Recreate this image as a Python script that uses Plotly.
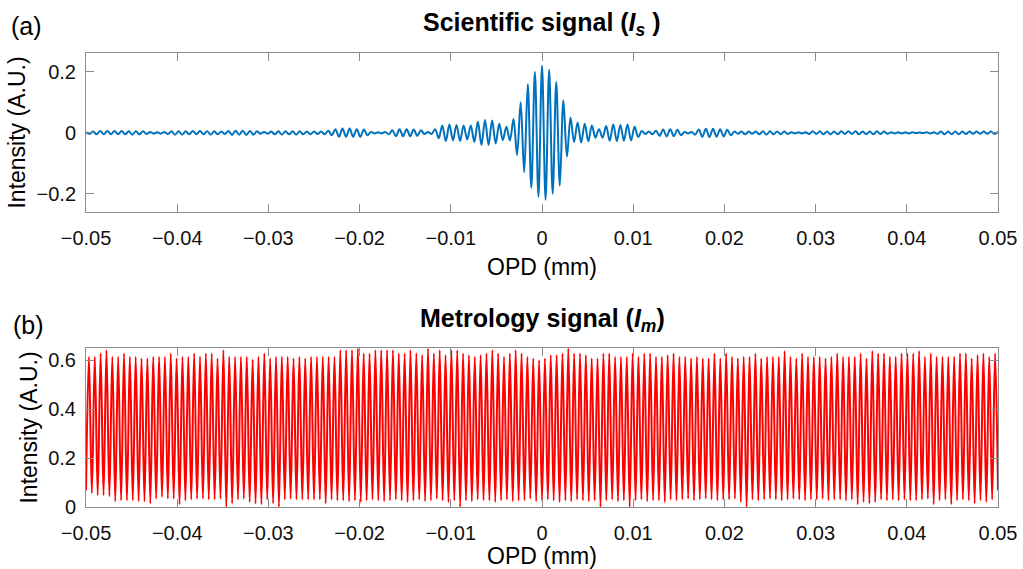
import numpy as np
import plotly.graph_objects as go

# ---------------- data ----------------
# Scientific signal: successive extrema (max/min) of the interferogram,
# evenly spaced over OPD -0.05 .. 0.05 mm
sci_extrema = [
    0.002, -0.003, 0.004,
    -0.005, 0.006, -0.005, 0.006, -0.005, 0.006, -0.005, 0.006, -0.005, 0.005, -0.006, 0.005, -0.005, 0.005, -0.004,
    0.003, -0.003, 0.002, -0.003, 0.003, -0.004,
    0.005, -0.006, 0.005, -0.006, 0.005, -0.005, 0.006, -0.005, 0.006, -0.005, 0.005, -0.006, 0.005, -0.005, 0.004, -0.004,
    0.006, -0.007, 0.007, -0.006, 0.007, -0.007, 0.006, -0.006, 0.005,
    -0.003, 0.003, -0.003, 0.004,
    -0.005, 0.005, -0.006, 0.005, -0.005, 0.005, -0.006, 0.005, -0.005, 0.004, -0.005, 0.004,
    -0.004, 0.004, -0.005,
    0.007, -0.008,
    0.012, -0.013, 0.014, -0.013, 0.014, -0.013, 0.012, -0.013, 0.011, -0.008,
    0.003, -0.002, 0.002, -0.002, 0.003,
    -0.005, 0.008,
    -0.011, 0.012, -0.011, 0.012, -0.011, 0.011, -0.010, 0.008,
    -0.004, 0.003, -0.004,
    0.012, -0.018, 0.024, -0.027, 0.027, -0.025, 0.026, -0.027, 0.024,
    -0.022, 0.024, -0.030, 0.036, -0.040, 0.042, -0.040, 0.040, -0.035, 0.030, -0.024, 0.020, -0.025,
    0.045, -0.073, 0.100, -0.130, 0.160, -0.180, 0.200, -0.210,
    0.220,
    -0.220, 0.207, -0.200, 0.167, -0.174, 0.107, -0.079, 0.050,
    -0.030, 0.034, -0.032, 0.030, -0.028, 0.024,
    -0.016, 0.012, -0.016,
    0.022, -0.026, 0.027, -0.027, 0.026, -0.026, 0.027, -0.025, 0.020, -0.014,
    0.006, -0.004, 0.004, -0.005, 0.007,
    -0.010, 0.011, -0.012, 0.012, -0.011, 0.010, -0.008,
    0.003, -0.002, 0.003, -0.006,
    0.011, -0.013, 0.013, -0.014, 0.013, -0.013, 0.012, -0.012, 0.010, -0.008,
    0.004, -0.003, 0.004, -0.005, 0.004, -0.003, 0.004, -0.005, 0.005, -0.006, 0.005,
    -0.005, 0.004, -0.005, 0.004, -0.004,
    0.002, -0.002, 0.002, -0.002, 0.002,
    -0.004, 0.005, -0.004, 0.005, -0.005, 0.004, -0.005, 0.004, -0.005, 0.005, -0.004, 0.005,
    -0.004, 0.005, -0.005, 0.004, -0.005, 0.004, -0.005, 0.005, -0.004, 0.004, -0.003,
    0.002, -0.002, 0.002, -0.002, 0.002, -0.002,
    0.002, -0.001, 0.001, -0.001, 0.002, -0.002, 0.002, -0.003,
    0.004, -0.005, 0.004, -0.005, 0.004, -0.005, 0.004, -0.004, 0.004,
    -0.003, 0.004, -0.003, 0.004, -0.003, 0.004, -0.003, 0.003,
]

# Metrology signal: fringe maxima and minima (minima include both ends)
met_peaks = [
    0.614, 0.614, 0.628, 0.641, 0.614, 0.614, 0.628, 0.614, 0.614, 0.607,
    0.607, 0.614, 0.614, 0.614, 0.628, 0.607, 0.614, 0.614, 0.628, 0.614,
    0.628, 0.628, 0.607, 0.641, 0.614, 0.614, 0.614, 0.614, 0.603, 0.614,
    0.628, 0.607, 0.614, 0.614, 0.614, 0.607, 0.614, 0.607, 0.614, 0.614,
    0.614, 0.614, 0.614,
    0.641, 0.641, 0.641, 0.648, 0.628, 0.628, 0.641, 0.641, 0.641, 0.641,
    0.628, 0.628, 0.641, 0.628, 0.621, 0.648, 0.628, 0.641, 0.621, 0.641,
    0.641, 0.628, 0.621, 0.614, 0.621, 0.628, 0.641, 0.628, 0.614, 0.628,
    0.641, 0.628, 0.614, 0.607, 0.600, 0.607, 0.621, 0.621, 0.628, 0.648,
    0.628, 0.628, 0.621, 0.607, 0.607, 0.628, 0.628, 0.614, 0.614, 0.614,
    0.628, 0.614, 0.628, 0.628, 0.614, 0.614, 0.621, 0.628,
    0.614, 0.614, 0.607, 0.614, 0.607, 0.607, 0.628, 0.607, 0.628, 0.614,
    0.607, 0.614, 0.614, 0.628, 0.607, 0.614, 0.614, 0.614, 0.638, 0.614,
    0.607, 0.628, 0.614, 0.614, 0.614, 0.607, 0.614, 0.628, 0.614, 0.614,
    0.614, 0.628, 0.607, 0.638, 0.628, 0.628, 0.614, 0.614, 0.628, 0.628,
    0.628, 0.638, 0.614, 0.628, 0.614, 0.614, 0.614, 0.614, 0.628, 0.628,
    0.607, 0.621, 0.628, 0.614, 0.628,
]
met_troughs = [
    0.068, 0.057, 0.048, 0.048, 0.044, 0.023, 0.027, 0.027, 0.027, 0.023,
    0.023, 0.014, 0.034, 0.041, 0.034, 0.034, 0.011, 0.027, 0.031, 0.034,
    0.034, 0.031, 0.031, 0.034, 0.000, 0.014, 0.031, 0.034, 0.020, 0.014,
    0.011, 0.031, 0.014, 0.000, 0.031, 0.034, 0.031, 0.031, 0.031, 0.031,
    0.031, 0.014, 0.031, 0.027,
    0.027, 0.023, 0.027, 0.020, 0.027, 0.031, 0.027, 0.023, 0.027, 0.031,
    0.027, 0.020, 0.027, 0.031, 0.023, 0.027, 0.034, 0.027, 0.020, 0.027,
    0.000, 0.027, 0.023, 0.031, 0.027, 0.027, 0.020, 0.027, 0.031, 0.023,
    0.027, 0.027, 0.034, 0.023, 0.027, 0.031, 0.027, 0.020, 0.027, 0.023,
    0.031, 0.027, 0.023, 0.027, 0.000, 0.027, 0.031, 0.023, 0.027, 0.000,
    0.027, 0.031, 0.023, 0.027, 0.027, 0.020, 0.031, 0.027,
    0.031, 0.034, 0.027, 0.031, 0.034, 0.031, 0.027, 0.031, 0.031, 0.034,
    0.020, 0.000, 0.031, 0.027, 0.031, 0.034, 0.031, 0.027, 0.031, 0.034,
    0.031, 0.027, 0.031, 0.031, 0.034, 0.027, 0.031, 0.031, 0.027, 0.031,
    0.011, 0.020, 0.014, 0.020, 0.031, 0.027, 0.031, 0.027, 0.031, 0.027,
    0.027, 0.031, 0.034, 0.011, 0.027, 0.031, 0.011, 0.027, 0.031, 0.027,
    0.014, 0.027, 0.020, 0.031, 0.068,
]

opd_range = [-0.05, 0.05]
x_tickvals = [-0.05, -0.04, -0.03, -0.02, -0.01, 0, 0.01, 0.02, 0.03, 0.04, 0.05]
x_ticktext = ["\u22120.05", "\u22120.04", "\u22120.03", "\u22120.02", "\u22120.01", "0",
              "0.01", "0.02", "0.03", "0.04", "0.05"]
sci_yticks = [-0.2, 0, 0.2]
sci_ytext = ["\u22120.2", "0", "0.2"]
met_yticks = [0, 0.2, 0.4, 0.6]
met_ytext = ["0", "0.2", "0.4", "0.6"]

# ---------------- build series ----------------
sci_y = np.array(sci_extrema)
sci_x = np.linspace(opd_range[0], opd_range[1], len(sci_y))

met_y = [met_troughs[0]]
for p, t in zip(met_peaks, met_troughs[1:]):
    met_y += [p, t]
met_y = np.array(met_y)
met_x = np.linspace(opd_range[0], opd_range[1], len(met_y))

# ---------------- figure ----------------
W, H = 1023, 569
ML, MR, MT, MB = 86, 25, 53, 62
PH = H - MT - MB

def py(px):  # pixel row -> paper y
    return (H - MB - px) / PH

def px_(x):  # pixel col -> paper x
    return (x - ML) / (W - ML - MR)

fig = go.Figure()
fig.add_trace(go.Scatter(x=sci_x, y=sci_y, mode="lines",
                         line=dict(color="#0072BD", width=2, shape="spline", smoothing=1),
                         xaxis="x", yaxis="y", showlegend=False, hoverinfo="skip"))
fig.add_trace(go.Scatter(x=met_x, y=met_y, mode="lines",
                         line=dict(color="#FF0000", width=2, shape="spline", smoothing=1),
                         xaxis="x2", yaxis="y2", showlegend=False, hoverinfo="skip"))

axcol = "#8c8c8c"
common = dict(showline=True, linecolor=axcol, linewidth=1, mirror="ticks",
              ticks="inside", ticklen=8, tickwidth=1, tickcolor=axcol,
              showgrid=False, zeroline=False, automargin=False,
              tickfont=dict(size=20, color="#111111"))

fig.update_layout(
    width=W, height=H,
    margin=dict(l=ML, r=MR, t=MT, b=MB),
    paper_bgcolor="white", plot_bgcolor="white",
    font=dict(family="Liberation Sans, Arial, sans-serif", color="#000000"),
    xaxis=dict(common, domain=[0, 1], anchor="y", range=opd_range,
               tickvals=x_tickvals, ticktext=x_ticktext, ticklabelstandoff=8,
               title=dict(text="OPD (mm)", font=dict(size=23), standoff=10)),
    yaxis=dict(common, domain=[py(212), 1], anchor="x", range=[-0.26, 0.262],
               tickvals=sci_yticks, ticktext=sci_ytext, ticklabelstandoff=5,
               title=dict(text="Intensity (A.U.)", font=dict(size=23), standoff=4)),
    xaxis2=dict(common, domain=[0, 1], anchor="y2", range=opd_range,
                tickvals=x_tickvals, ticktext=x_ticktext, ticklabelstandoff=8,
                title=dict(text="OPD (mm)", font=dict(size=23), standoff=10)),
    yaxis2=dict(common, domain=[0, py(348)], anchor="x2", range=[0, 0.65],
                tickvals=met_yticks, ticktext=met_ytext, ticklabelstandoff=5,
                title=dict(text="Intensity (A.U.)", font=dict(size=23), standoff=4)),
    annotations=[
        dict(text="<b>Scientific signal (<i>I</i><sub><i>s</i></sub> )</b>",
             x=0.5, y=py(24), xref="paper", yref="paper",
             xanchor="center", yanchor="middle", showarrow=False,
             font=dict(size=25, color="#000000")),
        dict(text="<b>Metrology signal (<i>I</i><sub><i>m</i></sub>)</b>",
             x=0.5, y=py(320), xref="paper", yref="paper",
             xanchor="center", yanchor="middle", showarrow=False,
             font=dict(size=25, color="#000000")),
        dict(text="(a)", x=px_(9), y=py(26), xref="paper", yref="paper",
             xanchor="left", yanchor="middle", showarrow=False,
             font=dict(size=25, color="#000000")),
        dict(text="(b)", x=px_(11), y=py(325), xref="paper", yref="paper",
             xanchor="left", yanchor="middle", showarrow=False,
             font=dict(size=25, color="#000000")),
    ],
)

fig.write_html("out.html")
